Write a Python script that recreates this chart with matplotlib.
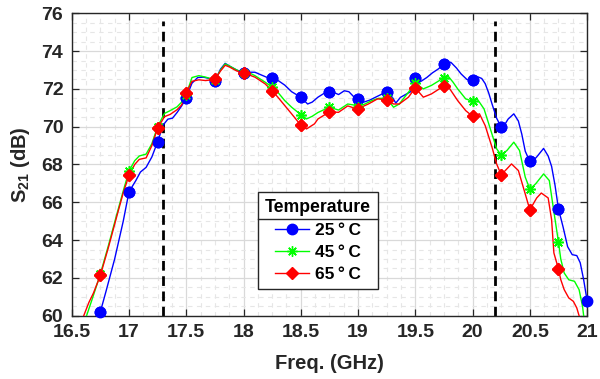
import numpy as np
import matplotlib
matplotlib.use("Agg")
import matplotlib.pyplot as plt
from matplotlib.lines import Line2D

plt.rcParams['font.family'] = ['Liberation Sans', 'DejaVu Sans']
plt.rcParams['font.weight'] = 'bold'
plt.rcParams['mathtext.fontset'] = 'custom'
plt.rcParams['mathtext.rm'] = 'Liberation Sans:bold'
plt.rcParams['mathtext.bf'] = 'Liberation Sans:bold'
plt.rcParams['mathtext.it'] = 'Liberation Sans:bold'

# ---- data ----
f_25 = [16.70, 16.75, 16.80, 16.875, 16.95, 17.00, 17.06, 17.10, 17.15, 17.20, 17.25, 17.30, 17.34, 17.38,
        17.42, 17.46, 17.50, 17.55, 17.60, 17.65, 17.70, 17.75, 17.80, 17.84, 17.88, 17.94, 18.00, 18.05,
        18.10, 18.15, 18.20, 18.25, 18.30, 18.36, 18.42, 18.50, 18.56, 18.60, 18.65, 18.70, 18.75, 18.80,
        18.83, 18.88, 18.92, 18.96, 19.00, 19.05, 19.10, 19.15, 19.20, 19.25, 19.30, 19.33, 19.37, 19.42,
        19.46, 19.50, 19.55, 19.60, 19.65, 19.70, 19.75, 19.81, 19.86, 19.90, 19.95, 20.00, 20.04, 20.08,
        20.11, 20.14, 20.17, 20.21, 20.25, 20.28, 20.31, 20.36, 20.40, 20.43, 20.46, 20.50, 20.53, 20.56,
        20.62, 20.66, 20.69, 20.72, 20.75, 20.79, 20.83, 20.87, 20.91, 20.94, 20.97, 21.00]
s_25 = [58.9, 60.2, 61.3, 63.0, 65.0, 66.55, 67.15, 67.6, 67.85, 68.4, 69.2, 70.1, 70.4, 70.45,
        70.75, 71.1, 71.53, 72.3, 72.6, 72.62, 72.55, 72.42, 73.05, 73.35, 73.2, 73.0, 72.85, 72.88,
        72.88, 72.75, 72.62, 72.58, 72.45, 72.2, 71.85, 71.56, 71.2, 71.3, 71.56, 71.75, 71.85, 71.78,
        71.7, 71.9, 71.85, 71.6, 71.47, 71.3, 71.4, 71.55, 71.7, 71.85, 71.55, 71.25, 71.55, 71.72,
        71.85, 72.56, 72.4, 72.6, 72.85, 73.05, 73.3, 73.41, 73.1, 72.79, 72.5, 72.45, 72.65, 72.55,
        72.28, 71.8, 71.2, 70.45, 69.98, 70.1, 70.4, 70.68, 70.3, 69.6, 68.7, 68.16, 68.2, 68.4,
        68.85, 68.45, 67.9, 66.9, 65.65, 64.7, 63.65, 63.23, 63.18, 62.8, 61.9, 60.8]

f_45 = [16.55, 16.63, 16.68, 16.75, 16.82, 16.90, 16.95, 17.00, 17.05, 17.09, 17.15, 17.20, 17.25, 17.31,
        17.36, 17.42, 17.46, 17.50, 17.55, 17.61, 17.67, 17.75, 17.80, 17.84, 17.88, 17.94, 18.00, 18.05,
        18.10, 18.19, 18.25, 18.30, 18.36, 18.42, 18.50, 18.55, 18.60, 18.65, 18.75, 18.83, 18.91, 18.96,
        19.00, 19.06, 19.12, 19.18, 19.25, 19.31, 19.36, 19.44, 19.50, 19.57, 19.64, 19.71, 19.75, 19.79,
        19.83, 19.87, 19.94, 20.00, 20.04, 20.10, 20.16, 20.21, 20.25, 20.30, 20.36, 20.41, 20.46, 20.50,
        20.55, 20.62, 20.67, 20.71, 20.75, 20.77, 20.80, 20.84, 20.89, 20.93, 20.96, 20.97, 20.99]
s_45 = [58.9, 60.0, 60.9, 62.2, 63.7, 65.5, 66.6, 67.65, 68.2, 68.45, 68.55, 69.1, 70.0, 70.7,
        70.85, 71.05, 71.3, 71.7, 72.6, 72.7, 72.62, 72.48, 73.0, 73.32, 73.2, 73.0, 72.85, 72.85,
        72.7, 72.35, 72.09, 71.82, 71.38, 71.03, 70.64, 70.41, 70.55, 70.75, 71.03, 70.88, 71.2, 71.15,
        71.05, 71.2, 71.38, 71.5, 71.5, 71.03, 71.2, 71.82, 72.3, 72.0, 72.18, 72.44, 72.6, 72.65,
        72.35, 72.0, 71.47, 71.35, 71.47, 70.94, 69.79, 68.83, 68.5, 68.74, 69.18, 68.74, 67.33, 66.7,
        66.97, 67.5, 67.15, 65.5, 63.9, 63.0, 62.26, 61.9, 61.82, 61.38, 60.5, 60.0, 59.3]

f_65 = [16.55, 16.605, 16.65, 16.69, 16.75, 16.82, 16.90, 16.95, 17.00, 17.05, 17.09, 17.15, 17.20, 17.25,
        17.31, 17.36, 17.42, 17.46, 17.50, 17.55, 17.61, 17.67, 17.75, 17.80, 17.84, 17.88, 17.94, 18.00,
        18.10, 18.19, 18.25, 18.30, 18.36, 18.42, 18.50, 18.55, 18.62, 18.65, 18.75, 18.83, 18.91, 18.96,
        19.00, 19.09, 19.17, 19.25, 19.31, 19.36, 19.44, 19.50, 19.57, 19.64, 19.71, 19.75, 19.79, 19.87,
        19.94, 20.00, 20.06, 20.11, 20.17, 20.21, 20.25, 20.30, 20.34, 20.40, 20.46, 20.50, 20.56, 20.60,
        20.66, 20.69, 20.71, 20.75, 20.77, 20.80, 20.84, 20.88, 20.91, 20.93, 20.96]
s_65 = [58.8, 60.0, 60.7, 61.2, 62.13, 63.6, 65.4, 66.5, 67.42, 68.0, 68.27, 68.35, 69.0, 69.92,
        70.53, 70.65, 70.9, 71.15, 71.77, 72.4, 72.48, 72.44, 72.5, 72.95, 73.25, 73.15, 72.95, 72.85,
        72.62, 72.26, 71.9, 71.56, 71.12, 70.68, 70.08, 69.88, 70.15, 70.41, 70.78, 70.76, 71.1, 71.0,
        70.95, 71.2, 71.47, 71.42, 71.2, 71.2, 71.56, 72.05, 71.56, 71.73, 72.0, 72.15, 72.1, 71.38,
        70.85, 70.55, 70.68, 70.06, 68.91, 68.03, 67.45, 67.77, 68.03, 67.68, 66.44, 65.6, 66.23, 66.49,
        66.23, 65.08, 63.32, 62.47, 61.91, 61.38, 60.94, 60.76, 60.41, 60.0, 59.4]

band_edges = [17.3, 20.2]
x_ticks = [16.5, 17, 17.5, 18, 18.5, 19, 19.5, 20, 20.5, 21]
x_tick_labels = ['16.5', '17', '17.5', '18', '18.5', '19', '19.5', '20', '20.5', '21']
y_ticks = [60, 62, 64, 66, 68, 70, 72, 74, 76]
labels = ['25\u2009°\u2009C', '45\u2009°\u2009C', '65\u2009°\u2009C']

# ---- figure ----
fig = plt.figure(figsize=(6.0, 3.79), dpi=100)
ax = fig.add_axes([0.1195, 0.167, 0.859, 0.798])
dark = '#262626'

series = [(f_25, s_25, 'blue', 'o', 7.5, labels[0]),
          (f_45, s_45, '#00ff00', (8, 2, 0), 7.5, labels[1]),
          (f_65, s_65, 'red', 'D', 6.5, labels[2])]

for f, s, c, m, ms, lab in series:
    f = np.asarray(f); s = np.asarray(s)
    idx = np.where(np.isclose(f * 4, np.round(f * 4)))[0]
    ax.plot(f, s, color=c, lw=1.0, marker=m, ms=ms, markevery=list(idx),
            markeredgecolor=c, markerfacecolor=c, label=lab, zorder=3)
    ax.plot(f[idx], s[idx], ls='none', marker=m, ms=ms, color=c,
            markeredgecolor=c, clip_on=False, zorder=4)

for b in band_edges:
    ax.axvline(b, ymin=0, ymax=0.975, color='black', lw=2.0, ls=(0, (3.5, 2)), zorder=2)

ax.set_xlim(16.5, 21)
ax.set_ylim(60, 76)
ax.set_xticks(x_ticks)
ax.set_xticklabels(x_tick_labels)
ax.set_yticks(y_ticks)
ax.set_xticks(np.arange(16.5, 21.0001, 0.125), minor=True)
ax.set_yticks(np.arange(60, 76.0001, 0.5), minor=True)

ax.grid(True, which='major', color='#d9d9d9', lw=0.9, zorder=0)
ax.grid(True, which='minor', color='#e6e6e6', lw=0.8, ls=(0, (4, 4)), zorder=0)
ax.set_axisbelow(True)

ax.tick_params(which='major', direction='in', length=5, width=0.9, top=True, right=True,
               labelsize=14, colors=dark, pad=6)
ax.tick_params(which='minor', length=0)
for sp in ax.spines.values():
    sp.set_color(dark)
    sp.set_linewidth(1.0)

ax.set_xlabel('Freq. (GHz)', fontsize=14.5, fontweight='bold', color=dark, labelpad=9)
ax.set_ylabel(r'S$_{21}$ (dB)', fontsize=14.5, fontweight='bold', color=dark, labelpad=7)

leg = ax.legend(loc='upper left', bbox_to_anchor=(0.361, 0.41), borderaxespad=0,
                title='Temperature', fontsize=12.5, title_fontproperties={'weight': 'bold', 'size': 12.7},
                fancybox=False, framealpha=1, edgecolor=dark, handlelength=2.0,
                handletextpad=0.3, labelspacing=0.4, borderpad=0.4)
leg.get_frame().set_linewidth(1.0)
for t in leg.get_texts():
    t.set_fontweight('bold')

fig.canvas.draw()
r = fig.canvas.get_renderer()
tb = leg.get_title().get_window_extent(r)
fb = leg.get_frame().get_window_extent(r)
ysep = tb.y0 - 3
inv = fig.transFigure.inverted()
(x0, y0) = inv.transform((fb.x0, ysep))
(x1, _) = inv.transform((fb.x1, ysep))
fig.add_artist(Line2D([x0, x1], [y0, y0], color=dark, lw=1.0, transform=fig.transFigure, zorder=10))

fig.savefig('out.png', dpi=100)
